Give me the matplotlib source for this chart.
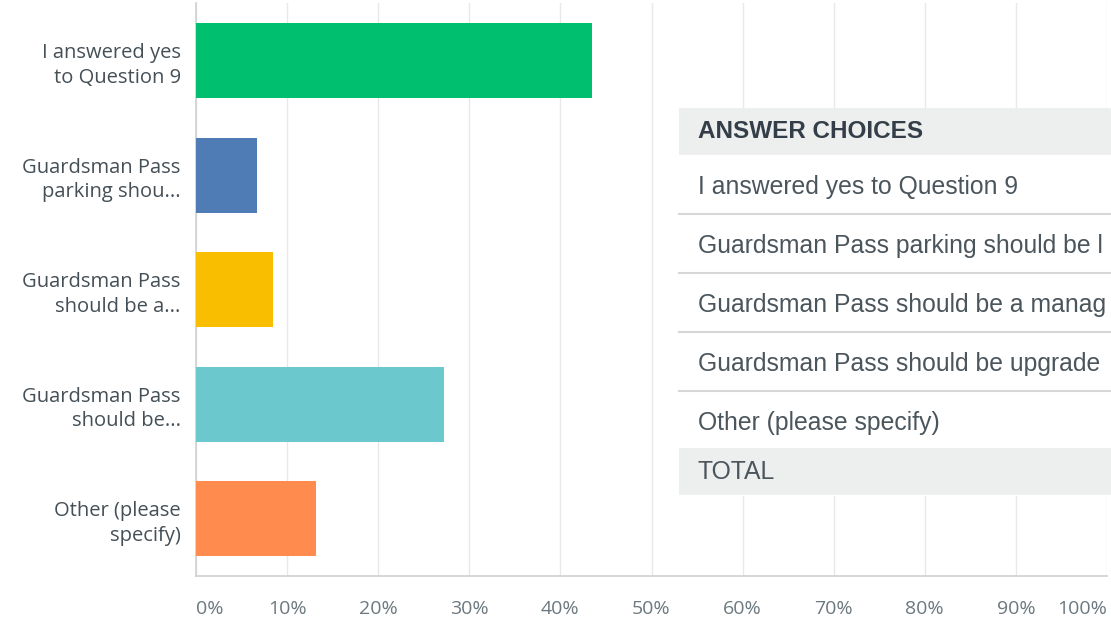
import matplotlib
matplotlib.use("Agg")
import matplotlib.pyplot as plt
from matplotlib.patches import Rectangle

# ---- data ----
categories = [
    "I answered yes\nto Question 9",
    "Guardsman Pass\nparking shou...",
    "Guardsman Pass\nshould be a...",
    "Guardsman Pass\nshould be...",
    "Other (please\nspecify)",
]
values = [43.5, 6.7, 8.4, 27.2, 13.2]
colors = ["#00bf6f", "#507cb6", "#f9be00", "#6bc8cd", "#ff8b4f"]
xticks = [0, 10, 20, 30, 40, 50, 60, 70, 80, 90, 100]
xtick_labels = [f"{t}%" for t in xticks]

table_header = "ANSWER CHOICES"
table_rows = [
    "I answered yes to Question 9",
    "Guardsman Pass parking should be l",
    "Guardsman Pass should be a manag",
    "Guardsman Pass should be upgrade",
    "Other (please specify)",
]
table_total = "TOTAL"

W, H = 1111, 622
fig = plt.figure(figsize=(W / 100, H / 100), dpi=100)
fig.patch.set_facecolor("white")

# main bar axes (pixel-derived position)
left_px, right_px, top_px, bottom_px = 196, 1107, 3.25, 576
ax = fig.add_axes([left_px / W, 1 - bottom_px / H,
                   (right_px - left_px) / W, (bottom_px - top_px) / H])
ypos = list(range(len(categories)))
ax.barh(ypos, values, height=0.655, color=colors, zorder=3)
ax.set_ylim(len(categories) - 0.5, -0.5)
ax.set_xlim(0, 100)

ax.set_xticks(xticks)
ax.set_xticklabels(xtick_labels, fontsize=14, color="#6b787f", family="Open Sans")
tl = ax.get_xticklabels()
tl[0].set_ha("left")
tl[-1].set_ha("right")
ax.tick_params(axis="x", length=0, pad=17.5)

ax.set_yticks(ypos)
ax.set_yticklabels(categories, fontsize=14.5, color="#454f56", family="Open Sans",
                   linespacing=1.3)
ax.tick_params(axis="y", length=0, pad=11)

ax.grid(axis="x", color="#e8e8e8", lw=1, zorder=0)
ax.set_axisbelow(True)
for s in ["top", "right"]:
    ax.spines[s].set_visible(False)
for s in ["left", "bottom"]:
    ax.spines[s].set_color("#d0d0d0")
    ax.spines[s].set_linewidth(1.2)

# overlay axes for the answer-choices table (pixel coordinates)
ov = fig.add_axes([0, 0, 1, 1], zorder=10)
ov.set_xlim(0, W)
ov.set_ylim(H, 0)
ov.axis("off")
ov.patch.set_alpha(0)

tx0 = 679
ov.add_patch(Rectangle((tx0, 108), W - tx0, 496 - 108, facecolor="white",
                       edgecolor="none"))
ov.add_patch(Rectangle((tx0, 108), W - tx0, 47, facecolor="#edeeee",
                       edgecolor="none"))
ov.add_patch(Rectangle((tx0, 448), W - tx0, 47, facecolor="#edeeee",
                       edgecolor="none"))

txt_x = 698
ov.text(txt_x, 132, table_header, fontsize=17.5, fontweight="bold",
        color="#333e48", family="Liberation Sans", va="center", ha="left",
        clip_on=True)
row_y = [187, 246, 305, 364, 423]
for i, (label, y) in enumerate(zip(table_rows, row_y)):
    ov.text(txt_x, y, label, fontsize=17.8, color="#4b555c",
            family="Liberation Sans", va="center", ha="left", clip_on=True)
    if i < len(table_rows) - 1:
        ov.plot([tx0, W], [y + 26.5, y + 26.5], color="#d5d7d8", lw=1.5)
ov.text(txt_x, 472, table_total, fontsize=17.8, color="#4b555c",
        family="Liberation Sans", va="center", ha="left", clip_on=True)

fig.savefig("out.png", dpi=100, facecolor="white")
